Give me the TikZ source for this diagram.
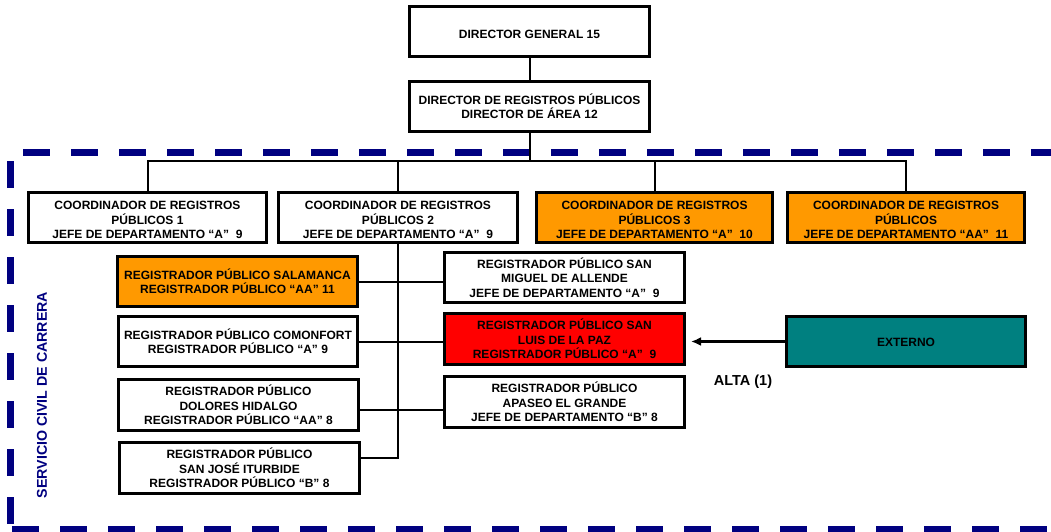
\documentclass[tikz,border=0pt]{standalone}
\usepackage{fontspec}
\setmainfont{Liberation Sans}
\usetikzlibrary{arrows.meta}
\definecolor{navyline}{RGB}{0,0,128}
\definecolor{orangebox}{RGB}{255,153,0}
\definecolor{tealbox}{RGB}{0,128,128}
% text block set a little below the middle of its box
\newcommand\lowtext[2]{\raisebox{-#1}[\height][\depth]{\begin{tabular}{@{}c@{}}#2\end{tabular}}}
\begin{document}
\begin{tikzpicture}[x=1pt,y=-1pt,
  box/.style={draw=black, line width=3pt, fill=white, align=center,
    inner sep=0pt, minimum width=240pt, minimum height=50pt,
    font=\fontsize{12}{14.3}\selectfont\bfseries},
  conn/.style={draw=black, line width=2pt},
  border/.style={draw=navyline, line width=7pt, dash pattern=on 27pt off 21pt},
  arrowline/.style={draw=black, line width=2.5pt, -{Latex[length=10pt,width=9pt]}, shorten >=5pt}]
\useasboundingbox (0,0) rectangle (1051,531);
\clip (0,0) rectangle (1051,531);

% dashed frame of the career civil service
\draw[border] (23,152.5) -- (1060,152.5);
\draw[border] (10,161) -- (10,524);
\draw[border] (12,529) -- (1060,529);
\node[rotate=90, text=navyline, font=\fontsize{14.2}{16}\selectfont\bfseries] (scc) at (42,395) {SERVICIO CIVIL DE CARRERA};

% top of the hierarchy
\node[box] (dg) at (529.5,31) {\lowtext{5pt}{DIRECTOR GENERAL 15}};
\node[box] (drp) at (529.5,106) {DIRECTOR DE REGISTROS PÚBLICOS\\DIRECTOR DE ÁREA 12};

% coordinators
\tikzset{coord/.style={box, font=\fontsize{12}{14.8}\selectfont\bfseries}}
\node[coord, minimum width=238pt] (c1) at (147.5,217) {\lowtext{4pt}{COORDINADOR DE REGISTROS\\PÚBLICOS 1\\JEFE DE DEPARTAMENTO “A”\ \ 9}};
\node[coord, minimum width=239pt] (c2) at (398,217) {\lowtext{4pt}{COORDINADOR DE REGISTROS\\PÚBLICOS 2\\JEFE DE DEPARTAMENTO “A”\ \ 9}};
\node[coord, minimum width=236pt, fill=orangebox] (c3) at (654.5,217) {\lowtext{4pt}{COORDINADOR DE REGISTROS\\PÚBLICOS 3\\JEFE DE DEPARTAMENTO “A”\ \ 10}};
\node[coord, minimum width=237pt, fill=orangebox] (c4) at (906,217) {\lowtext{4pt}{COORDINADOR DE REGISTROS\\PÚBLICOS\\JEFE DE DEPARTAMENTO “AA”\ \ 11}};

% registrars, left column
\node[box, fill=orangebox] (sal) at (237.5,281.5) {REGISTRADOR PÚBLICO SALAMANCA\\REGISTRADOR PÚBLICO “AA” 11};
\node[box, minimum width=239pt] (com) at (238,341.5) {REGISTRADOR PÚBLICO COMONFORT\\REGISTRADOR PÚBLICO “A” 9};
\node[box, minimum height=51pt] (dol) at (238.5,405) {REGISTRADOR PÚBLICO\\DOLORES HIDALGO\\REGISTRADOR PÚBLICO “AA” 8};
\node[box, minimum height=51pt] (sj) at (239.5,468) {REGISTRADOR PÚBLICO\\SAN JOSÉ ITURBIDE\\REGISTRADOR PÚBLICO “B” 8};

% registrars, right column
\node[box] (smig) at (564.5,277.5) {REGISTRADOR PÚBLICO SAN\\MIGUEL DE ALLENDE\\JEFE DE DEPARTAMENTO “A”\ \ 9};
\node[box, minimum height=51pt, fill=red] (slp) at (564.5,339) {REGISTRADOR PÚBLICO SAN\\LUIS DE LA PAZ\\REGISTRADOR PÚBLICO “A”\ \ 9};
\node[box, minimum height=51pt] (apa) at (564.5,402) {REGISTRADOR PÚBLICO\\APASEO EL GRANDE\\JEFE DE DEPARTAMENTO “B” 8};

% external hire
\node[box, minimum width=239pt, fill=tealbox] (ext) at (906,341.5) {\lowtext{2pt}{EXTERNO}};
\node[font=\fontsize{14.5}{16}\selectfont\bfseries] (alta) at (743,382) {ALTA (1)};

% connectors
\coordinate (bus) at (529.5,161);
\draw[conn] (dg) -- (drp);
\draw[conn] (drp.south) -- (bus);
\draw[conn] (c1.north) |- (bus) -| (c4.north);
\draw[conn] (c2.north) |- (bus);
\draw[conn] (c3.north) |- (bus);

\coordinate (sjlink) at ([yshift=10pt]sj.east);
\draw[conn] (sjlink) -| (c2.south);
\draw[conn] (sal.east) -- (sal.east -| smig.west);
\draw[conn] (com.east) -- (com.east -| slp.west);
\coordinate (dollink) at ([yshift=-5pt]dol.east);
\draw[conn] (dollink) -- (dollink -| apa.west);

\draw[arrowline] (ext.west) -- (ext.west -| slp.east);
\end{tikzpicture}
\end{document}
